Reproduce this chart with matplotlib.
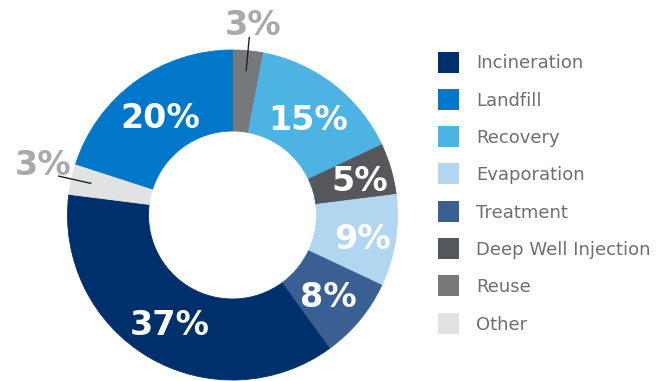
import matplotlib
matplotlib.use("Agg")
import matplotlib.pyplot as plt
from matplotlib.patches import Rectangle
import numpy as np

# Waste management methods, in the order drawn clockwise from 12 o'clock
slice_labels = ["Reuse", "Recovery", "Deep Well Injection", "Evaporation",
                "Treatment", "Incineration", "Other", "Landfill"]
slice_values = [3, 15, 5, 9, 8, 37, 3, 20]

# Legend order
legend_labels = ["Incineration", "Landfill", "Recovery", "Evaporation",
                 "Treatment", "Deep Well Injection", "Reuse", "Other"]

palette = {
    "Incineration": "#00306b",
    "Landfill": "#0077c8",
    "Recovery": "#4cb3e3",
    "Evaporation": "#b1d6ef",
    "Treatment": "#3a5f93",
    "Deep Well Injection": "#55575d",
    "Reuse": "#76787c",
    "Other": "#e1e2e4",
}

# Small slices get their percentage outside the ring with a leader line;
# value is the text offset (points) from the outer end of the leader
outside = {"Reuse": (3, 11.5), "Other": (-11.5, 10)}

W, H = 668, 381
fig = plt.figure(figsize=(W / 100, H / 100), dpi=100)

cx, cy, R = 232.5, 381 - 215, 165.0
ax = fig.add_axes([(cx - R) / W, (cy - R) / H, 2 * R / W, 2 * R / H])

ring = 1 - 84 / 165
wedges, _ = ax.pie(
    slice_values,
    colors=[palette[n] for n in slice_labels],
    startangle=90,
    counterclock=False,
    radius=1.0,
    wedgeprops=dict(width=ring, linewidth=0.6, antialiased=True),
)
for w, n in zip(wedges, slice_labels):
    w.set_edgecolor(palette[n])
ax.set_xlim(-1, 1)
ax.set_ylim(-1, 1)
ax.set_aspect("equal")
ax.axis("off")

label_font = dict(family="DejaVu Sans", fontweight="bold", fontsize=24)
for w, name, val in zip(wedges, slice_labels, slice_values):
    mid = np.deg2rad((w.theta1 + w.theta2) / 2)
    c, s = np.cos(mid), np.sin(mid)
    text = f"{val}%"
    if name in outside:
        ax.plot([0.88 * c, 1.08 * c], [0.88 * s, 1.08 * s],
                color="#231f20", lw=1.0, clip_on=False)
        ax.annotate(text, xy=(1.08 * c, 1.08 * s), xytext=outside[name],
                    textcoords="offset points", ha="center",
                    va="center_baseline", color="#a7a9ac",
                    annotation_clip=False, **label_font)
    else:
        r = 0.80 if val < 10 and abs(np.rad2deg(mid)) < 20 else 0.75
        ax.text(r * c, r * s, text, ha="center", va="center_baseline",
                color="white", **label_font)

# Legend: colour squares and names
row0, step, sq = 62.0, 37.3, 21.0
for i, name in enumerate(legend_labels):
    yc = row0 + i * step
    fig.patches.append(Rectangle((438 / W, (H - yc - sq / 2) / H), sq / W, sq / H,
                                 transform=fig.transFigure,
                                 facecolor=palette[name], edgecolor="none"))
    fig.text(476 / W, (H - yc - 6.5) / H, name, ha="left", va="baseline",
             family="DejaVu Sans", fontsize=13, color="#6d6e71")

fig.savefig("out.png", dpi=100)
